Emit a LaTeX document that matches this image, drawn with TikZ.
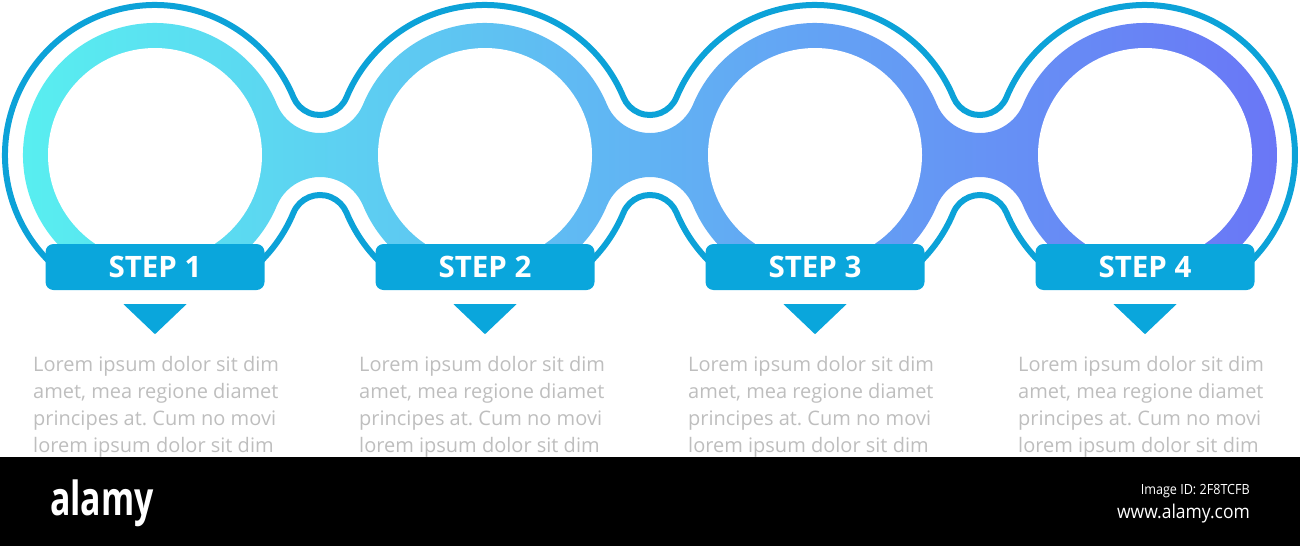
\documentclass[tikz,border=0pt]{standalone}
\usepackage{fontspec}
\setmainfont{Open Sans}
\usetikzlibrary{calc}
\frenchspacing
\definecolor{stepblue}{RGB}{10,166,220}
\definecolor{lineblue}{RGB}{12,162,216}
\definecolor{gradL}{RGB}{88,240,240}
\definecolor{gradR}{RGB}{106,117,246}
\definecolor{loremgray}{RGB}{190,190,190}
\def\bth{22.62}
\newcommand\bandpath[2]{%
 (155,-155) ++(\bth:#1) arc[start angle=\bth, end angle=360-\bth, radius=#1]
 arc[start angle=180-\bth, end angle=\bth, radius=#2]
 arc[start angle=180+\bth, end angle=360-\bth, radius=#1]
 arc[start angle=180-\bth, end angle=\bth, radius=#2]
 arc[start angle=180+\bth, end angle=360-\bth, radius=#1]
 arc[start angle=180-\bth, end angle=\bth, radius=#2]
 arc[start angle=180+\bth, end angle=540-\bth, radius=#1]
 arc[start angle=-\bth, end angle=\bth-180, radius=#2]
 arc[start angle=\bth, end angle=180-\bth, radius=#1]
 arc[start angle=-\bth, end angle=\bth-180, radius=#2]
 arc[start angle=\bth, end angle=180-\bth, radius=#1]
 arc[start angle=-\bth, end angle=\bth-180, radius=#2] -- cycle}
\tikzset{
 stepbox/.style={fill=stepblue, rounded corners=8pt, minimum width=219pt, minimum height=46pt,
   inner sep=0pt, text=white, font=\fontsize{29.5}{30}\selectfont\bfseries},
 pointer/.style={fill=stepblue},
 lorem/.style={anchor=base west, inner sep=0pt, text=loremgray, font=\fontsize{20}{27}\selectfont},
 ring/.style={lineblue, line width=6pt}
}
\begin{document}
\begin{tikzpicture}[x=1pt,y=1pt]
\useasboundingbox (0,0) rectangle (1300,-546);
% gradient band
\shade[left color=gradL, right color=gradR] \bandpath{132}{46.75};
\foreach \i/\cx in {1/155,2/485,3/815,4/1145}{
  \fill[white] (\cx,-155) circle[radius=107];
}
% outline
\begin{scope}
\clip (0,0) rectangle (1300,-268);
\draw[ring] \bandpath{150}{28.75};
\end{scope}
% step boxes, pointers, text
\foreach \i/\cx/\lx in {1/155/33,2/485/359,3/815/688,4/1145/1018}{
  \node[stepbox] (s\i) at (\cx,-267) {STEP \i};
  \fill[pointer] ($(s\i.south)+(-31.5,-14)$) -- ($(s\i.south)+(31.5,-14)$) -- ($(s\i.south)+(0,-44)$) -- cycle;
  \node[lorem] (t\i a) at (\lx,-371) {Lorem ipsum dolor sit dim};
  \node[lorem] (t\i b) at (\lx,-398) {amet, mea regione diamet};
  \node[lorem] (t\i c) at (\lx,-425) {principes at. Cum no movi};
  \node[lorem] (t\i d) at (\lx,-452) {lorem ipsum dolor sit dim};
}
% bottom bar
\fill[black] (0,-457) rectangle (1300,-546);
\node[anchor=base west, inner sep=0pt, text=white, xscale=0.72, font=\fontsize{47}{47}\selectfont\bfseries] (logo) at (50,-515) {alamy};
\node[anchor=base east, inner sep=0pt, text=white, xscale=0.9, font=\fontsize{14}{14}\selectfont] (imgid) at (1250,-494) {Image ID: 2F8TCFB};
\node[anchor=base east, inner sep=0pt, text=white, xscale=0.92, font=\fontsize{19}{19}\selectfont] (www) at (1250,-518) {www.alamy.com};
\end{tikzpicture}
\end{document}
